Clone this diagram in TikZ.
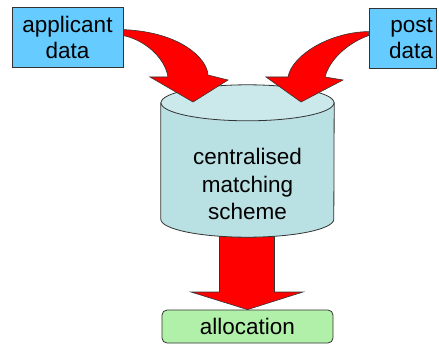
\documentclass[tikz,border=0pt]{standalone}
\usepackage{fontspec}
\setmainfont{Liberation Sans}
\definecolor{databoxblue}{HTML}{66CCFF}
\definecolor{schemebody}{HTML}{B9E0E3}
\definecolor{schemetop}{HTML}{CBE8EA}
\definecolor{allocgreen}{HTML}{B0F0A8}
\definecolor{outline}{HTML}{333333}
\definecolor{blockred}{HTML}{FF0000}

\begin{document}
\begin{tikzpicture}[x=1pt, y=-1pt,
  databox/.style={rectangle, draw=outline, fill=databoxblue, line width=0.8pt,
    minimum height=60pt, inner sep=3pt, font=\fontsize{22.5}{26}\selectfont},
  scheme/.style={rectangle, minimum width=173pt, minimum height=152pt, inner sep=0pt},
  schemeside/.style={draw=outline, fill=schemebody, line width=0.8pt},
  schemecap/.style={draw=outline, fill=schemetop, line width=0.8pt},
  bodytext/.style={align=center, font=\fontsize{22.5}{27.5}\selectfont},
  resultbox/.style={rectangle, rounded corners=5pt, draw=outline, fill=allocgreen,
    line width=0.8pt, minimum width=171pt, minimum height=33pt, font=\fontsize{22.5}{26}\selectfont},
  blockarrow/.style={fill=blockred, draw=outline, line width=0.6pt, line join=miter},
]
  \useasboundingbox (0,0) rectangle (439,345);

  \node[databox, minimum width=111pt, align=center] (app) at (67.5,37) {applicant\\data};
  \node[databox, minimum width=67pt, text width=61pt, align=right] (post) at (402.5,38) {post\\data};
  \node[resultbox] (alloc) at (247.5,326.5) {allocation};
  \node[scheme] (cms) at (247.5,161) {};

  \filldraw[blockarrow] ([xshift=-28pt,yshift=20pt]cms.south) -- ([xshift=-28pt]cms.south |- 0,292) -- (191,292)
    -- (alloc.north) -- (303,292) -- ([xshift=27pt]cms.south |- 0,292) -- ([xshift=27pt,yshift=20pt]cms.south) -- cycle;

  \filldraw[schemeside] ([yshift=-18pt]cms.north west) -- ([yshift=18pt]cms.south west)
    arc[start angle=180, end angle=360, x radius=86.5pt, y radius=18pt]
    -- ([yshift=-18pt]cms.north east) -- cycle;
  \filldraw[schemecap] ([yshift=-18pt]cms.north) ellipse [x radius=86.5pt, y radius=18pt];
  \node[bodytext] (cmstext) at ([yshift=-23pt]cms.center) {centralised\\matching\\scheme};

  \filldraw[blockarrow] ([yshift=-23pt]app.north east) .. controls (180,32) and (207,58) .. (208,75)
    -- (228,80) -- (193,102) -- (150,77) -- (168,77)
    .. controls (165,58) and (145,40) .. ([yshift=-29pt]app.north east) -- cycle;
  \filldraw[blockarrow] ([yshift=-24pt]post.north west) .. controls (330,32) and (292,55) .. (288,77)
    -- (266,77) -- (301,102) -- (343,80) -- (325,77)
    .. controls (330,58) and (350,42) .. ([yshift=-28pt]post.north west) -- cycle;
\end{tikzpicture}
\end{document}
